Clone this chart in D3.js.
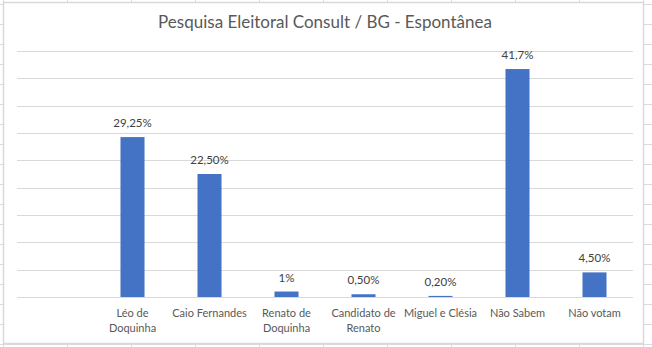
<!DOCTYPE html>
<html>
<head>
<meta charset="utf-8">
<script src="https://cdn.jsdelivr.net/npm/d3@7"></script>
<style>
  html, body { margin: 0; padding: 0; background: #ffffff; }
  svg { display: block; }
  text { font-family: Lato, "Open Sans", sans-serif; }
</style>
</head>
<body>
<svg id="chart" width="652" height="347"></svg>
<script>
const title = "Pesquisa Eleitoral Consult / BG - Espontânea";
const categories = ["", "Léo de Doquinha", "Caio Fernandes", "Renato de Doquinha", "Candidato de Renato", "Miguel e Clésia", "Não Sabem", "Não votam"];
const values = [null, 29.25, 22.5, 1, 0.5, 0.2, 41.7, 4.5];
const valueLabels = ["", "29,25%", "22,50%", "1%", "0,50%", "0,20%", "41,7%", "4,50%"];
const yTicks = [0, 5, 10, 15, 20, 25, 30, 35, 40, 45];

const W = 652, H = 347;
const svg = d3.select("#chart");

// spreadsheet cell grid behind the chart
const colLines = d3.range(3, W + 1, 64);
const rowLines = d3.range(4, H + 1, 20);
svg.append("g").selectAll("line.c").data(colLines).join("line")
  .attr("x1", d => d + 0.5).attr("x2", d => d + 0.5).attr("y1", 0).attr("y2", H)
  .attr("stroke", "#dadada").attr("stroke-width", 1);
svg.append("g").selectAll("line.r").data(rowLines).join("line")
  .attr("x1", 0).attr("x2", W).attr("y1", d => d + 0.5).attr("y2", d => d + 0.5)
  .attr("stroke", "#dadada").attr("stroke-width", 1);

// chart area
svg.append("rect").attr("x", 3.5).attr("y", 2.5).attr("width", 640).attr("height", 341)
  .attr("fill", "#ffffff").attr("stroke", "#d9d9d9").attr("stroke-width", 1.5);

const plot = { left: 17, right: 633, top: 51, bottom: 297 };

const x = d3.scaleBand().domain(categories.map((c, i) => i))
  .range([plot.left, plot.right]).paddingInner(0.688).paddingOuter(0.344);
const y = d3.scaleLinear().domain([0, 45]).range([plot.bottom, plot.top]);

// horizontal gridlines
svg.append("g").selectAll("line").data(yTicks).join("line")
  .attr("x1", plot.left).attr("x2", plot.right)
  .attr("y1", d => Math.round(y(d)) + 0.5).attr("y2", d => Math.round(y(d)) + 0.5)
  .attr("stroke", "#d9d9d9").attr("stroke-width", 1);

// title
svg.append("text").attr("x", 325).attr("y", 28).attr("text-anchor", "middle")
  .attr("font-size", 17).attr("fill", "#595959").text(title);

// bars
const idx = d3.range(categories.length).filter(i => values[i] != null);
svg.append("g").selectAll("rect").data(idx).join("rect")
  .attr("x", i => x(i)).attr("width", x.bandwidth())
  .attr("y", i => y(values[i])).attr("height", i => y(0) - y(values[i]))
  .attr("fill", "#4472c4");

// data labels
svg.append("g").selectAll("text").data(idx).join("text")
  .attr("x", i => x(i) + x.bandwidth() / 2)
  .attr("y", i => y(values[i]) - 10)
  .attr("text-anchor", "middle").attr("font-size", 11.5).attr("fill", "#404040")
  .text(i => valueLabels[i]);

// category labels with wrapping
const labelSize = 11;
const wrapWidth = 78;
const catG = svg.append("g");
categories.forEach((c, i) => {
  if (!c) return;
  const t = catG.append("text").attr("text-anchor", "middle")
    .attr("font-size", labelSize).attr("fill", "#595959");
  const cx = x(i) + x.bandwidth() / 2;
  const words = c.split(" ");
  let lines = [], line = [];
  const probe = catG.append("text").attr("font-size", labelSize);
  words.forEach(w => {
    const trial = line.concat([w]).join(" ");
    probe.text(trial);
    if (line.length && probe.node().getComputedTextLength() > wrapWidth) {
      lines.push(line.join(" "));
      line = [w];
    } else line.push(w);
  });
  lines.push(line.join(" "));
  probe.remove();
  lines.forEach((l, k) => {
    t.append("tspan").attr("x", cx).attr("y", 317 + k * 14.5).text(l);
  });
});
</script>
</body>
</html>
